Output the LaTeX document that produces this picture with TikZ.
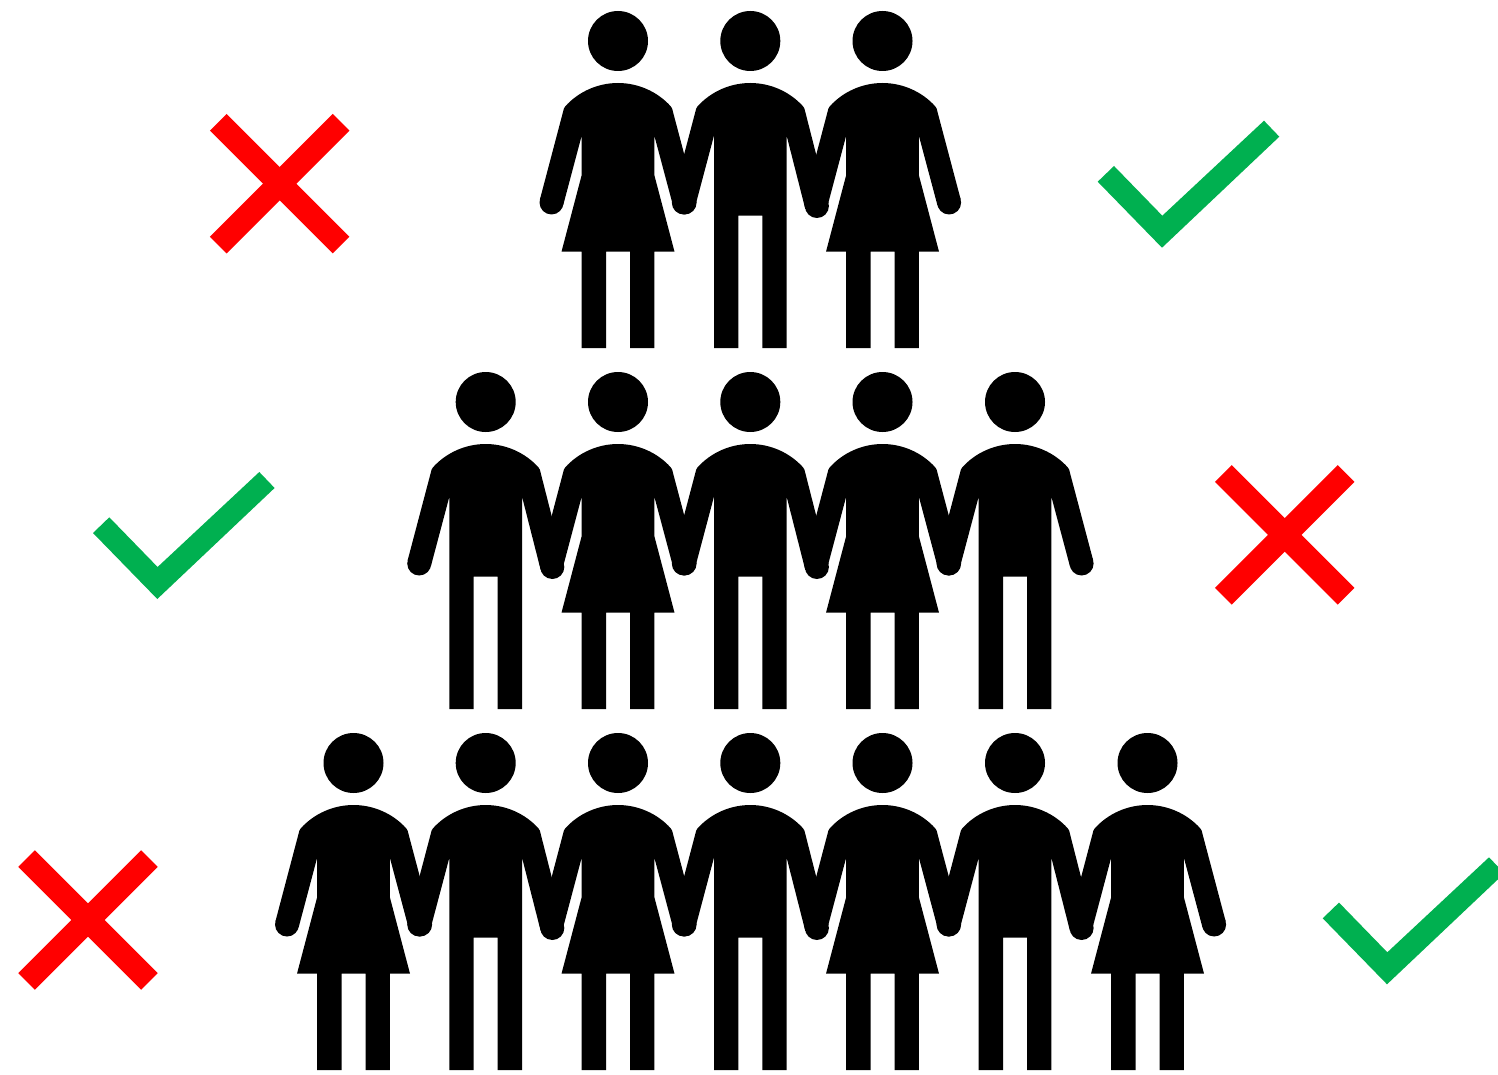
\documentclass[tikz,border=0pt]{standalone}
\usepackage{tikz}

\definecolor{tickgreen}{HTML}{00B050}
\definecolor{crossred}{HTML}{FF0000}

% figure macros: centre x, row offset (and right hand height for the man)
\newcommand{\figtop}[1]{(-36.3,135.5) -- (-54.9,205.5) -- (-78.1,199.5) -- (-55,112)
    .. controls (-54.5,109.5) and (-54,107.5) .. (-52.7,106.3)
    .. controls (-39.3,91.5) and (-20,83) .. (0,83)
    .. controls (20,83) and (39.3,91.5) .. (52.7,106.3)
    .. controls (54,107.5) and (54.5,109.5) .. (55,112)
    -- (78.2,#1-3) -- (55,#1+3) -- (36.3,135.5)}
\newcommand{\figround}[1]{
  \fill (0,41) circle[radius=30];
  \fill (-66.5,202.5) circle[radius=12];
  \fill (66.6,#1) circle[radius=12];
}
\newcommand{\womanfig}[2]{
  \begin{scope}[shift={(#1,#2)}]
    \figround{202.5}
    \fill \figtop{202.5} -- (36.3,175) -- (56.5,251.7) -- (36.3,251.7) -- (36.3,348) -- (12,348)
      -- (12,251.7) -- (-12,251.7) -- (-12,348) -- (-36.3,348) -- (-36.3,251.7)
      -- (-56.5,251.7) -- (-36.3,175) -- cycle;
  \end{scope}
}
\newcommand{\manfig}[3]{
  \begin{scope}[shift={(#1,#2)}]
    \figround{#3}
    \fill \figtop{#3} -- (36.3,348) -- (12,348) -- (12,215.7) -- (-12,215.7) -- (-12,348)
      -- (-36.3,348) -- cycle;
  \end{scope}
}
\newcommand{\crossmark}[2]{
  \draw[crossbar] (#1-61.4,#2-61.4) -- (#1+61.4,#2+61.4);
  \draw[crossbar] (#1-61.4,#2+61.4) -- (#1+61.4,#2-61.4);
}
\newcommand{\tickmark}[2]{
  \fill[tickgreen, shift={(#1,#2)}] (0,0) -- (16.3,-15.7) -- (64.6,34) -- (166.3,-61)
    -- (181.6,-45) -- (64.3,66) -- cycle;
}

\begin{document}
\begin{tikzpicture}[
    x=1pt, y=-1pt,
    crossbar/.style={crossred, line width=23.6pt}
]

\clip (0,0) rectangle (1498,1075);
\fill[white] (0,0) rectangle (1498,1075);

% Row 1
\womanfig{618}{0}
\manfig{750.3}{0}{206}
\womanfig{882.5}{0}

% Row 2
\manfig{485.7}{361}{206}
\womanfig{618}{361}
\manfig{750.3}{361}{206}
\womanfig{882.5}{361}
\manfig{1015}{361}{202.5}

% Row 3
\womanfig{353.5}{722}
\manfig{485.7}{722}{206}
\womanfig{618}{722}
\manfig{750.3}{722}{206}
\womanfig{882.5}{722}
\manfig{1015}{722}{206}
\womanfig{1147.5}{722}

% Crosses
\crossmark{279.7}{183.7}
\crossmark{1284.7}{534.9}
\crossmark{88}{920}

% Ticks
\tickmark{1097.7}{181.7}
\tickmark{93}{533}
\tickmark{1322.7}{918.3}

\end{tikzpicture}
\end{document}
